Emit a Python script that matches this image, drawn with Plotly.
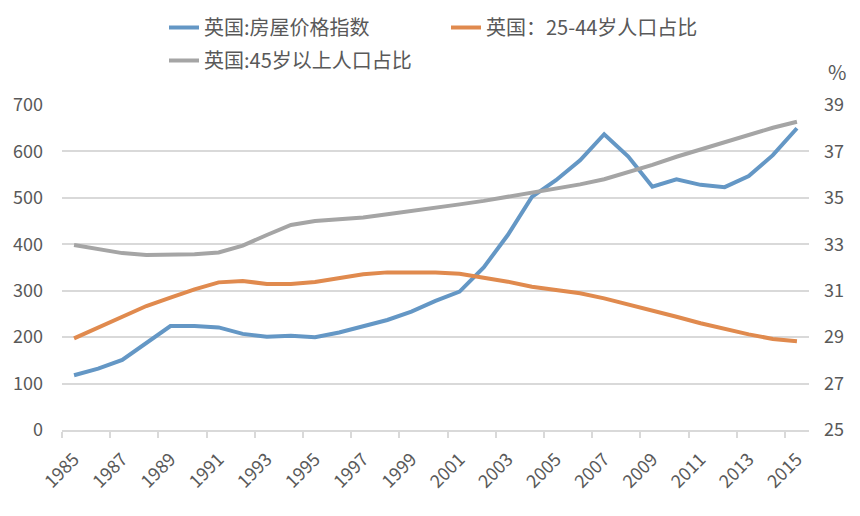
import plotly.graph_objects as go

years = list(range(1985, 2016))
house_price = [118, 132, 151, 187, 224, 224, 221, 207, 201, 203, 200, 210, 223, 237, 255,
               278, 298, 350, 420, 502, 538, 581, 637, 589, 524, 540, 528, 523, 547, 592, 650]
age_25_44 = [28.95, 29.42, 29.91, 30.34, 30.70, 31.06, 31.36, 31.42, 31.29, 31.29, 31.38,
             31.53, 31.71, 31.79, 31.81, 31.79, 31.73, 31.58, 31.39, 31.17, 31.03, 30.89,
             30.67, 30.41, 30.17, 29.88, 29.60, 29.35, 29.12, 28.92, 28.82]
age_45_plus = [32.97, 32.78, 32.62, 32.54, 32.54, 32.57, 32.65, 32.94, 33.40, 33.83, 34.00,
               34.09, 34.15, 34.29, 34.42, 34.55, 34.72, 34.87, 35.04, 35.22, 35.41, 35.58,
               35.80, 36.09, 36.42, 36.77, 37.09, 37.42, 37.74, 38.02, 38.28]
tick_years = list(range(1985, 2016, 2))
boundary_ticks = [y - 0.5 for y in tick_years]

names = ["英国:房屋价格指数", "英国：25-44岁人口占比", "英国:45岁以上人口占比"]
colors = ["#6497C5", "#E08A4E", "#A5A5A5"]
FONT = "Noto Sans CJK SC"
TXT = "#595959"

fig = go.Figure()
fig.add_trace(go.Scatter(x=years, y=house_price, name=names[0], mode="lines", showlegend=True,
                         line=dict(color=colors[0], width=4), legend="legend", yaxis="y"))
fig.add_trace(go.Scatter(x=years, y=age_25_44, name=names[1], mode="lines", showlegend=True,
                         line=dict(color=colors[1], width=4), legend="legend2", yaxis="y2"))
fig.add_trace(go.Scatter(x=years, y=age_45_plus, name=names[2], mode="lines", showlegend=True,
                         line=dict(color=colors[2], width=4), legend="legend3", yaxis="y2"))

leg = dict(font=dict(family=FONT, size=20, color=TXT), bgcolor="rgba(0,0,0,0)",
           xanchor="left", yanchor="top", orientation="h")
# page has an 8px body margin: figure is drawn from screen (8, 8)
OFF = 8
FW, FH = 860 - OFF, 516 - OFF
L, W, T, H = 62, 747, 105, 325  # plot area in screen pixels

def px(x):
    return (x - L) / W

def py(y):
    return (T + H - y) / H

fig.update_layout(
    width=FW, height=FH,
    margin=dict(l=L - OFF, r=FW - (L - OFF) - W, t=T - OFF, b=FH - (T - OFF) - H, autoexpand=False),
    paper_bgcolor="white", plot_bgcolor="white",
    showlegend=True,
    font=dict(family=FONT, color=TXT),
    legend=dict(leg, x=px(164), y=py(8)),
    legend2=dict(leg, x=px(446), y=py(8)),
    legend3=dict(leg, x=px(164), y=py(41)),
    xaxis=dict(range=[1984.5, 2015.5], tickvals=tick_years, ticktext=[str(y) for y in tick_years],
               tickangle=-45, ticks="", showgrid=False, zeroline=False,
               showline=True, linecolor="#D9D9D9", linewidth=1.5,
               tickfont=dict(size=18, color=TXT), ticklabelstandoff=10,
               minor=dict(tickvals=boundary_ticks, ticks="outside", ticklen=6,
                          tickcolor="#D9D9D9", tickwidth=1.5, showgrid=False)),
    yaxis=dict(range=[0, 700], dtick=100, showgrid=True, gridcolor="#D9D9D9", gridwidth=1.5,
               zeroline=False, showline=False, ticks="", tickfont=dict(size=18, color=TXT),
               ticklabelstandoff=18),
    yaxis2=dict(range=[25, 39], tick0=25, dtick=2, overlaying="y", side="right", showgrid=False,
                zeroline=False, showline=False, ticks="", tickfont=dict(size=18, color=TXT),
                ticklabelstandoff=14),
    annotations=[dict(text="%", xref="paper", yref="paper", x=px(837), y=py(72),
                      xanchor="center", yanchor="middle",
                      showarrow=False, font=dict(size=20, color=TXT, family=FONT))],
)

fig.write_html("out.html")
